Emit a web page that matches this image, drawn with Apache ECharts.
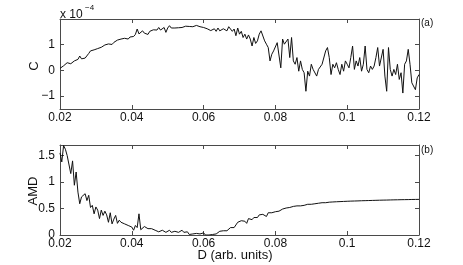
<!DOCTYPE html>
<html><head><meta charset="utf-8">
<script src="https://cdn.jsdelivr.net/npm/echarts@6/dist/echarts.min.js"></script>
<style>html,body{margin:0;padding:0;background:#fff}#c{width:463px;height:265px}</style>
</head><body><div id="c"></div>
<script>
const D = [
0.02,0.0205,0.021,0.0215,0.022,0.0225,0.023,0.0235,0.024,0.0245,
0.025,0.0255,0.026,0.0265,0.027,0.0275,0.028,0.0285,0.029,0.0295,
0.03,0.0305,0.031,0.0315,0.032,0.0325,0.033,0.0335,0.034,0.0345,
0.035,0.0355,0.036,0.0365,0.037,0.0375,0.038,0.0385,0.039,0.0395,
0.04,0.0405,0.041,0.0415,0.042,0.0425,0.043,0.0435,0.044,0.0445,
0.045,0.0455,0.046,0.0465,0.047,0.0475,0.048,0.0485,0.049,0.0495,
0.05,0.0505,0.051,0.0515,0.052,0.0525,0.053,0.0535,0.054,0.0545,
0.055,0.0555,0.056,0.0565,0.057,0.0575,0.058,0.0585,0.059,0.0595,
0.06,0.0605,0.061,0.0615,0.062,0.0625,0.063,0.0635,0.064,0.0645,
0.065,0.0655,0.066,0.0665,0.067,0.0675,0.068,0.0685,0.069,0.0695,
0.07,0.0705,0.071,0.0715,0.072,0.0725,0.073,0.0735,0.074,0.0745,
0.075,0.0755,0.076,0.0765,0.077,0.0775,0.078,0.0785,0.079,0.0795,
0.08,0.0805,0.081,0.0815,0.082,0.0825,0.083,0.0835,0.084,0.0845,
0.085,0.0855,0.086,0.0865,0.087,0.0875,0.088,0.0885,0.089,0.0895,
0.09,0.0905,0.091,0.0915,0.092,0.0925,0.093,0.0935,0.094,0.0945,
0.095,0.0955,0.096,0.0965,0.097,0.0975,0.098,0.0985,0.099,0.0995,
0.1,0.1005,0.101,0.1015,0.102,0.1025,0.103,0.1035,0.104,0.1045,
0.105,0.1055,0.106,0.1065,0.107,0.1075,0.108,0.1085,0.109,0.1095,
0.11,0.1105,0.111,0.1115,0.112,0.1125,0.113,0.1135,0.114,0.1145,
0.115,0.1155,0.116,0.1165,0.117,0.1175,0.118,0.1185,0.119,0.1195,
0.12];
// C in units of 1e-4
const C = [
0.08,0.10,0.18,0.22,0.30,0.27,0.26,0.33,0.37,0.32,
0.43,0.56,0.45,0.50,0.48,0.50,0.66,0.76,0.74,0.80,
0.78,0.85,0.82,0.90,0.93,0.99,0.94,1.03,1.05,1.01,
1.09,1.12,1.18,1.14,1.22,1.19,1.25,1.27,1.22,1.30,
1.35,1.32,1.40,1.61,1.42,1.38,1.54,1.45,1.48,1.40,
1.52,1.54,1.58,1.59,1.57,1.67,1.57,1.63,1.67,1.48,
1.65,1.74,1.65,1.70,1.65,1.67,1.66,1.70,1.67,1.65,
1.72,1.67,1.71,1.69,1.70,1.66,1.75,1.78,1.70,1.74,
1.67,1.71,1.62,1.67,1.55,1.61,1.62,1.52,1.65,1.54,
1.52,1.62,1.67,1.54,1.70,1.61,1.52,1.61,1.35,1.65,
1.41,1.52,1.28,1.41,1.22,1.38,1.22,0.95,1.28,1.05,
1.15,1.41,1.54,1.48,1.15,1.02,0.89,0.37,0.63,0.76,
0.82,1.08,1.15,0.10,1.22,1.02,1.02,1.22,0.50,1.28,
0.37,0.24,0.50,-0.03,0.37,0.04,-0.09,-0.81,-0.03,-0.22,
0.24,0.04,0.10,-0.22,0.04,-0.03,0.24,0.30,0.76,0.89,
0.50,-0.16,0.24,0.10,0.30,0.04,-0.16,0.24,-0.03,0.37,
0.24,0.10,0.50,0.95,0.04,0.37,0.17,0.50,-0.03,0.24,
0.95,0.04,-0.09,0.17,0.04,0.17,0.50,0.89,0.17,0.24,
0.82,-0.22,-0.81,0.89,0.04,-0.22,0.04,-0.16,0.24,-0.35,
-0.09,-0.88,0.24,0.37,0.82,0.24,-0.48,-0.55,-0.75,-0.29,
-0.16];
const AMD = [
1.55,1.38,1.69,1.62,1.50,1.48,1.16,1.40,0.94,1.19,
0.81,0.59,0.72,0.69,0.78,0.65,0.75,0.52,0.56,0.40,
0.53,0.47,0.31,0.47,0.37,0.45,0.38,0.24,0.42,0.21,
0.30,0.37,0.22,0.28,0.24,0.21,0.21,0.19,0.18,0.17,
0.15,0.09,0.18,0.14,0.40,0.10,0.12,0.16,0.13,0.12,
0.15,0.12,0.10,0.09,0.11,0.06,0.05,0.09,0.07,0.05,
0.08,0.09,0.05,0.04,0.07,0.09,0.05,0.07,0.09,0.05,
0.04,0.06,0.01,0.00,0.02,0.005,0.03,0.00,0.02,0.00,
0.04,0.00,0.02,0.00,0.01,0.01,0.02,0.02,0.03,0.07,
0.08,0.08,0.09,0.08,0.11,0.14,0.16,0.14,0.19,0.24,
0.25,0.27,0.24,0.26,0.22,0.31,0.32,0.29,0.33,0.35,
0.33,0.38,0.36,0.39,0.37,0.35,0.42,0.43,0.42,0.45,
0.44,0.46,0.45,0.48,0.49,0.49,0.51,0.52,0.52,0.53,
0.54,0.53,0.55,0.56,0.55,0.57,0.56,0.56,0.58,0.57,
0.58,0.59,0.59,0.60,0.60,0.60,0.61,0.61,0.61,0.62,
0.620,0.622,0.624,0.626,0.628,0.630,0.631,0.633,0.634,0.636,
0.637,0.638,0.640,0.641,0.642,0.643,0.644,0.646,0.647,0.648,
0.649,0.650,0.651,0.652,0.653,0.654,0.655,0.656,0.657,0.658,
0.659,0.660,0.660,0.661,0.662,0.663,0.664,0.664,0.665,0.666,
0.667,0.667,0.668,0.669,0.669,0.670,0.671,0.671,0.672,0.672,
0.673];
const xTicks = [0.02,0.04,0.06,0.08,0.1,0.12];
const cTicks = [-1,0,1];
const amdTicks = [0,0.5,1,1.5];
const xRange = [0.02,0.12];
const cRange = [-1.5,2];
const amdRange = [0,1.7];

const FONT = "'Liberation Sans', Arial, Helvetica, sans-serif";
const AX = '#4a4a4a';
const fmt = v => String(+v.toFixed(4)).replace('-', '\u2212');

function xAx(grid, pos, labels){
  return {type:'value', gridIndex:grid, position:pos, min:xRange[0], max:xRange[1],
    axisLine:{show:true, onZero:false, lineStyle:{color:AX,width:1}},
    axisTick:{show:true, inside:true, length:4, customValues:xTicks, lineStyle:{color:AX}},
    axisLabel:{show:labels, customValues:xTicks, margin:3, fontSize:12, color:'#111', fontFamily:FONT, formatter:fmt},
    splitLine:{show:false}};
}
function yAx(grid, pos, range, ticks, labels){
  return {type:'value', gridIndex:grid, position:pos, min:range[0], max:range[1],
    axisLine:{show:true, onZero:false, lineStyle:{color:AX,width:1}},
    axisTick:{show:true, inside:true, length:4, customValues:ticks, lineStyle:{color:AX}},
    axisLabel:{show:labels, customValues:ticks, margin:5, fontSize:12, color:'#111', fontFamily:FONT, formatter:fmt},
    splitLine:{show:false}};
}

const chart = echarts.init(document.getElementById('c'), null, {renderer:'canvas'});
chart.setOption({
  animation:false,
  backgroundColor:'#fff',
  grid:[
    {left:60, top:19, width:359, height:90, outerBoundsMode:'none'},
    {left:60, top:145, width:359, height:90, outerBoundsMode:'none'}
  ],
  xAxis:[xAx(0,'bottom',true), xAx(0,'top',false), xAx(1,'bottom',true), xAx(1,'top',false)],
  yAxis:[yAx(0,'left',cRange,cTicks,true), yAx(0,'right',cRange,cTicks,false),
         yAx(1,'left',amdRange,amdTicks,true), yAx(1,'right',amdRange,amdTicks,false)],
  series:[
    {type:'line', xAxisIndex:0, yAxisIndex:0, data:D.map((d,i)=>[d,C[i]]), showSymbol:false,
     lineStyle:{color:'#111', width:1}, clip:true},
    {type:'line', xAxisIndex:2, yAxisIndex:2, data:D.map((d,i)=>[d,AMD[i]]), showSymbol:false,
     lineStyle:{color:'#111', width:1}, clip:true}
  ],
  graphic:[
    {type:'text', x:60, y:15, style:{text:'x 10', fontSize:12, fontFamily:FONT, fill:'#111', verticalAlign:'middle', align:'left'}},
    {type:'text', x:85, y:8, style:{text:'\u22124', fontSize:8, fontFamily:FONT, fill:'#111', verticalAlign:'middle', align:'left'}},
    {type:'text', x:34, y:66, rotation:Math.PI/2, style:{text:'C', fontSize:13, fontFamily:FONT, fill:'#111', align:'center', verticalAlign:'middle'}},
    {type:'text', x:33, y:191, rotation:Math.PI/2, style:{text:'AMD', fontSize:13, fontFamily:FONT, fill:'#111', align:'center', verticalAlign:'middle'}},
    {type:'text', x:235, y:255, style:{text:'D (arb. units)', fontSize:13, fontFamily:FONT, fill:'#111', align:'center', verticalAlign:'middle'}},
    {type:'text', x:421, y:23, style:{text:'(a)', fontSize:10, fontFamily:FONT, fill:'#111', align:'left', verticalAlign:'middle'}},
    {type:'text', x:421, y:150, style:{text:'(b)', fontSize:10, fontFamily:FONT, fill:'#111', align:'left', verticalAlign:'middle'}}
  ]
});
</script></body></html>
